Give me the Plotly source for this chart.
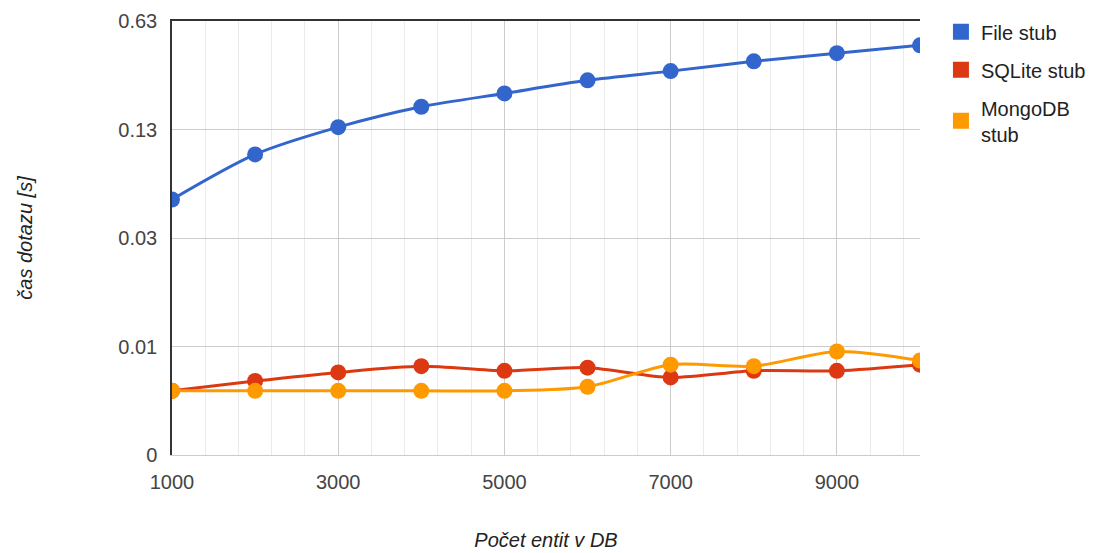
import numpy as np
import plotly.graph_objects as go

# ---- data ----
entities = [1000, 2000, 3000, 4000, 5000, 6000, 7000, 8000, 9000, 10000]
file_stub = [0.049, 0.094, 0.139, 0.186, 0.225, 0.271, 0.309, 0.355, 0.399, 0.446]
sqlite_stub = [0.0020, 0.0025, 0.0030, 0.0034, 0.0031, 0.0033, 0.0027, 0.0031, 0.0031, 0.0035]
mongo_stub = [0.0020, 0.0020, 0.0020, 0.0020, 0.0020, 0.0022, 0.0035, 0.0034, 0.0045, 0.0038]
y_tick_labels = ["0", "0.01", "0.03", "0.13", "0.63"]
x_ticks = [1000, 3000, 5000, 7000, 9000]

series_names = ["File stub", "SQLite stub", "MongoDB<br>stub"]
colors = ["#3366CC", "#DC3912", "#FF9900"]

# mirror-log style scale (as in Google Charts 'mirrorLog')
C = 0.00135
R = 4.65


def scale(v):
    v = np.asarray(v, dtype=float)
    return np.log1p(v / C) / np.log(R)


tick_values = [C * (R ** n - 1) for n in range(len(y_tick_labels))]

fig = go.Figure()
for name, vals, col in zip(series_names, [file_stub, sqlite_stub, mongo_stub], colors):
    fig.add_trace(go.Scatter(
        x=entities, y=scale(vals), mode="lines+markers",
        line=dict(color=col, width=3, shape="spline", smoothing=0.8),
        marker=dict(color=col, size=16),
        showlegend=False, hoverinfo="skip", xaxis="x", yaxis="y",
    ))
# legend entries (square swatches)
for i, (name, col) in enumerate(zip(series_names, colors)):
    fig.add_trace(go.Scatter(
        x=[None], y=[None], mode="markers", name=name, legendgroup=f"g{i}",
        marker=dict(color=col, size=24, symbol="square"),
        showlegend=True,
    ))

# top frame axis
fig.add_trace(go.Scatter(x=[None], y=[None], xaxis="x2", yaxis="y", showlegend=False))

fig.update_layout(
    width=1115, height=553,
    margin=dict(l=164, r=203, t=13, b=106, autoexpand=False),
    paper_bgcolor="white", plot_bgcolor="white",
    font=dict(family="Liberation Sans, Arial, sans-serif", size=20, color="#444444"),
    xaxis=dict(
        range=[1000, 10000], tickvals=x_ticks, automargin=False,
        showgrid=True, gridcolor="#cccccc", gridwidth=1,
        minor=dict(dtick=400, tick0=1000, showgrid=True, gridcolor="#ebebeb", gridwidth=1),
        showline=True, linecolor="#cccccc", linewidth=1,
        ticks="outside", ticklen=9, tickcolor="rgba(0,0,0,0)",
        zeroline=False,
        title=dict(text="<i>Počet entit v DB</i>", font=dict(size=20, color="#222222"), standoff=40),
    ),
    xaxis2=dict(
        overlaying="x", side="top", range=[1000, 10000], automargin=False,
        showline=True, linecolor="#333333", linewidth=1.5,
        showticklabels=False, showgrid=False, ticks="", zeroline=False,
    ),
    yaxis=dict(
        range=[0, 4], tickvals=list(scale(tick_values)), ticktext=y_tick_labels,
        automargin=False,
        showgrid=True, gridcolor="#cccccc", gridwidth=1,
        showline=True, linecolor="#333333", linewidth=1.5,
        ticks="outside", ticklen=9, tickcolor="rgba(0,0,0,0)",
        zeroline=False,
        title=dict(text="<i>čas dotazu [s]</i>", font=dict(size=20, color="#222222"), standoff=80),
    ),
    legend=dict(
        x=1.028, y=1.02, xanchor="left", yanchor="top",
        font=dict(size=20, color="#222222"),
        bgcolor="rgba(0,0,0,0)", tracegroupgap=9, itemwidth=30,
    ),
)

fig.write_html("out.html")
